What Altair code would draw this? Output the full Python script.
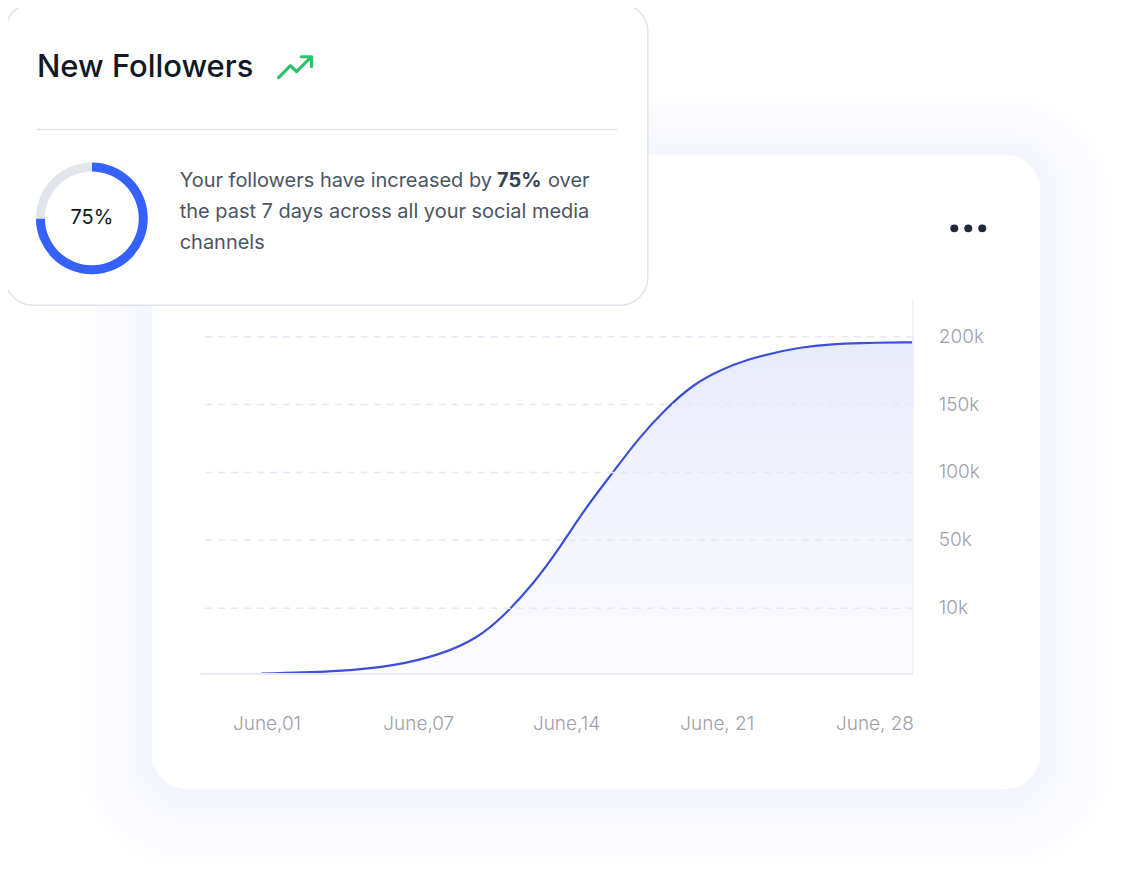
import altair as alt
import pandas as pd

# ---- data ----
days = [0.8, 4.0, 6.1, 8.0, 9.8, 11.1, 12.4, 13.7, 14.9, 16.2, 17.4, 18.7,
        19.9, 21.2, 22.4, 23.6, 24.8, 26.0, 27.2, 29.7]
followers_k = [0, 0.3, 1.2, 2.8, 5.3, 8.9, 23.2, 45.2, 73.5, 100, 125.5, 147.5,
               164.5, 175.5, 183, 188, 192, 194, 195, 195.5]

x_tick_days = [1, 7, 14, 21, 28]
x_tick_labels = ["June,01", "June,07", "June,14", "June, 21", "June, 28"]
y_tick_values = [10, 50, 100, 150, 200]
y_tick_labels = ["10k", "50k", "100k", "150k", "200k"]

donut_parts = ["increase", "rest"]
donut_values = [75, 25]
donut_order = [0, 1]

title_text = "New Followers"
badge_text = "75%"
para_line1 = ["Your followers have increased by", "75%", "over"]
para_line2 = "the past 7 days across all your social media"
para_line3 = "channels"

# ---- layout ----
W, H = 714, 374
FONT = "Inter"
one = pd.DataFrame({"k": [0]})


def rect(x1, x2, y1, y2, **kw):
    return alt.Chart(one).mark_rect(**kw).encode(
        x=alt.value(x1), x2=alt.value(x2), y=alt.value(y1), y2=alt.value(y2))


def text(t, x, y, **kw):
    return alt.Chart(pd.DataFrame({"t": [t]})).mark_text(
        font=FONT, baseline="middle", **kw).encode(
        x=alt.value(x), y=alt.value(y), text="t:N")


def label_expr(vals, labels):
    parts = [f"datum.value == {v} ? '{l}'" for v, l in zip(vals, labels)]
    return " : ".join(parts) + " : ''"


layers = []

# soft shadow around the big card
for i in range(1, 11):
    s = 7 * i
    layers.append(rect(-48 - s, 842 + s, -146 - s + i, 490 + s + i,
                       fill="#5a5fd8", opacity=0.008, cornerRadius=36 + s))

# big card
layers.append(rect(-48, 842, -146, 490, fill="white", cornerRadius=36))

# more dots
for dx in [756, 770, 784]:
    layers.append(alt.Chart(one).mark_circle(size=64, color="#232838", opacity=1).encode(
        x=alt.value(dx), y=alt.value(-72)))

# chart
df = pd.DataFrame({"day": days, "followers": followers_k})
xs = alt.Scale(domain=[-1.64, 1, 7, 14, 21, 28, 29.7],
               range=[0, 67, 219, 367, 518, 676, 714], nice=False, zero=False)
ys = alt.Scale(domain=[0, 10, 50, 100, 150, 200, 226.5],
               range=[374, 308, 240, 172, 104, 36, 0], nice=False, zero=False)

x_axis = alt.Axis(values=x_tick_days, labelExpr=label_expr(x_tick_days, x_tick_labels),
                  title=None, ticks=False, grid=False, domainColor="#e8eaf7",
                  domainWidth=2, labelColor="#9ca0ab", labelFontSize=19,
                  labelFont=FONT, labelFontWeight=300, labelBaseline="middle",
                  labelPadding=50, zindex=1)
y_axis = alt.Axis(orient="right", values=y_tick_values,
                  labelExpr=label_expr(y_tick_values, y_tick_labels),
                  title=None, ticks=False, tickSize=0, grid=True, gridColor="#e6e8f6",
                  gridDash=[7, 6], gridWidth=1.5, domainColor="#e8eaf7",
                  domainWidth=1.5, labelColor="#9ca0ab", labelFontSize=19,
                  labelFont=FONT, labelFontWeight=300, labelAlign="left",
                  labelPadding=26, zindex=1)

base = alt.Chart(df).encode(
    x=alt.X("day:Q", scale=xs, axis=x_axis),
    y=alt.Y("followers:Q", scale=ys, axis=y_axis),
)
area = base.mark_area(
    interpolate="basis",
    color=alt.Gradient(gradient="linear", x1=1, x2=1, y1=1, y2=0,
                       stops=[alt.GradientStop(color="#fcfcff", offset=0),
                              alt.GradientStop(color="#e8ebfb", offset=1)]))
line = base.mark_line(interpolate="basis", color="#3d4fd6", strokeWidth=2.2)
layers += [area, line]

# top card
layers.append(rect(-195, 449, -297, 5, fill="white", stroke="#e1e3ea",
                   strokeWidth=1.5, cornerRadius=28))
layers.append(text(title_text, -163, -233, fontSize=31, fontWeight=500,
                   color="#111827", align="left"))
arrow_path = ("M-0.94,0.58 L-0.28,-0.08 L0.06,0.25 L0.89,-0.58 "
              "M0.33,-0.58 L0.89,-0.58 L0.89,-0.03")
layers.append(alt.Chart(one).mark_point(
    shape=arrow_path, size=1296, filled=False, stroke="#2ec26a", strokeWidth=3.2,
    strokeCap="round", strokeJoin="round", opacity=1).encode(
    x=alt.value(96), y=alt.value(-233.5)))
layers.append(alt.Chart(one).mark_rule(color="#e3e5ea", strokeWidth=1.5).encode(
    x=alt.value(-163), x2=alt.value(418), y=alt.value(-171)))

# donut
ddf = pd.DataFrame({"part": donut_parts, "value": donut_values, "idx": donut_order})
layers.append(alt.Chart(ddf).mark_arc(radius=56, radius2=47).encode(
    theta=alt.Theta("value:Q", stack=True),
    order=alt.Order("idx:Q"),
    color=alt.Color("part:N", scale=alt.Scale(domain=donut_parts,
                                              range=["#3461ff", "#e2e5ec"]),
                    legend=None),
    x=alt.value(-108), y=alt.value(-82)))
layers.append(text(badge_text, -108, -82, fontSize=20, color="#111827",
                   align="center"))

# paragraph
PS = 20
layers.append(text(para_line1[0], -20, -119, fontSize=PS, color="#4b5563", align="left"))
layers.append(text(para_line1[1], 298, -119, fontSize=PS, color="#374151",
                   fontWeight="bold", align="left"))
layers.append(text(para_line1[2], 349, -119, fontSize=PS, color="#4b5563", align="left"))
layers.append(text(para_line2, -20, -88, fontSize=PS, color="#4b5563", align="left"))
layers.append(text(para_line3, -20, -57, fontSize=PS, color="#4b5563", align="left"))

chart = alt.layer(*layers).properties(
    width=W, height=H,
    autosize=alt.AutoSizeParams(type="none"),
    padding={"left": 192, "top": 292, "right": 210, "bottom": 190},
    background="white",
).configure_view(stroke=None).configure(font=FONT)

chart.save("out.html", embed_options={"renderer": "svg", "actions": False})
